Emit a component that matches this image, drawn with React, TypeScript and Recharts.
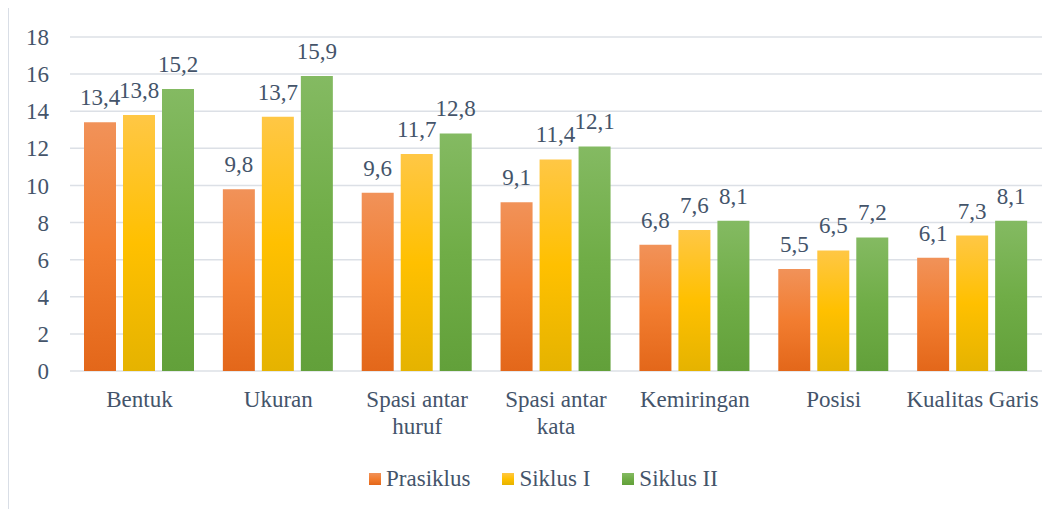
import { BarChart, Bar, XAxis, YAxis, CartesianGrid, Legend, LabelList } from "recharts";

const categories = ["Bentuk", "Ukuran", "Spasi antar huruf", "Spasi antar kata", "Kemiringan", "Posisi", "Kualitas Garis"];
const prasiklus = [13.4, 9.8, 9.6, 9.1, 6.8, 5.5, 6.1];
const siklus1 = [13.8, 13.7, 11.7, 11.4, 7.6, 6.5, 7.3];
const siklus2 = [15.2, 15.9, 12.8, 12.1, 8.1, 7.2, 8.1];
const yTicks = [0, 2, 4, 6, 8, 10, 12, 14, 16, 18];

// label wrapping as in the original
const tickLines: Record<string, string[]> = {
  "Spasi antar huruf": ["Spasi antar", "huruf"],
  "Spasi antar kata": ["Spasi antar", "kata"],
};

const data = categories.map((name, i) => ({
  name,
  prasiklus: prasiklus[i],
  siklus1: siklus1[i],
  siklus2: siklus2[i],
}));

const FONT = "Liberation Serif, Times New Roman, serif";
const TEXT = "#44546A";
const GRID = "#DCE0E6";

const series = [
  { key: "prasiklus", name: "Prasiklus", grad: "gOrange" },
  { key: "siklus1", name: "Siklus I", grad: "gYellow" },
  { key: "siklus2", name: "Siklus II", grad: "gGreen" },
];

const fmt = (v: any) => String(v).replace(".", ",");

function CategoryTick(props: any) {
  const { x, y, payload } = props;
  const lines = tickLines[payload.value] || [payload.value];
  return (
    <text x={x} y={y} textAnchor="middle" fill={TEXT} fontSize={23} fontFamily={FONT}>
      {lines.map((l, i) => (
        <tspan key={i} x={x} y={y + 36 + i * 27}>
          {l}
        </tspan>
      ))}
    </text>
  );
}

function LegendContent() {
  return (
    <div style={{ display: "flex", justifyContent: "center", alignItems: "center", gap: 32, paddingLeft: 36, fontFamily: FONT, fontSize: 23, color: TEXT }}>
      {series.map((s) => (
        <div key={s.key} style={{ display: "flex", alignItems: "center" }}>
          <svg width={12} height={12} style={{ marginRight: 5 }}>
            <rect width={12} height={12} fill={`url(#${s.grad})`} />
          </svg>
          <span>{s.name}</span>
        </div>
      ))}
    </div>
  );
}

export default function App() {
  return (
    <div style={{ marginTop: -1, width: 1100, height: 520, border: "1px solid #D9DEE6", boxSizing: "border-box", background: "#fff", fontFamily: FONT }}>
      <BarChart
        width={1053}
        height={500}
        data={data}
        margin={{ top: 29, right: 20, left: 0, bottom: 2 }}
        barSize={32}
        barGap={7}
        style={{ fontFamily: FONT }}
      >
        <defs>
          <linearGradient id="gOrange" x1="0" y1="0" x2="0" y2="1">
            <stop offset="0%" stopColor="#F19259" />
            <stop offset="50%" stopColor="#F27D30" />
            <stop offset="100%" stopColor="#E3671A" />
          </linearGradient>
          <linearGradient id="gYellow" x1="0" y1="0" x2="0" y2="1">
            <stop offset="0%" stopColor="#FFC745" />
            <stop offset="50%" stopColor="#FFC000" />
            <stop offset="100%" stopColor="#E5B300" />
          </linearGradient>
          <linearGradient id="gGreen" x1="0" y1="0" x2="0" y2="1">
            <stop offset="0%" stopColor="#84BA62" />
            <stop offset="50%" stopColor="#70AD47" />
            <stop offset="100%" stopColor="#62A03A" />
          </linearGradient>
        </defs>
        <CartesianGrid vertical={false} stroke={GRID} strokeWidth={1.5} />
        <XAxis
          dataKey="name"
          axisLine={false}
          tickLine={false}
          tickSize={0}
          tickMargin={0}
          height={95}
          interval={0}
          tick={<CategoryTick />}
        />
        <YAxis
          domain={[0, 18]}
          ticks={yTicks}
          width={61}
          axisLine={false}
          tickLine={false}
          tickSize={0}
          tickMargin={21}
          tick={{ fill: TEXT, fontSize: 23, fontFamily: FONT }}
        />
        <Legend verticalAlign="bottom" height={40} content={<LegendContent />} />
        {series.map((s) => (
          <Bar key={s.key} dataKey={s.key} name={s.name} fill={`url(#${s.grad})`} isAnimationActive={false}>
            <LabelList
              dataKey={s.key}
              position="top"
              offset={17}
              formatter={fmt}
              fill={TEXT}
              fontSize={23}
              fontFamily={FONT}
            />
          </Bar>
        ))}
      </BarChart>
    </div>
  );
}
